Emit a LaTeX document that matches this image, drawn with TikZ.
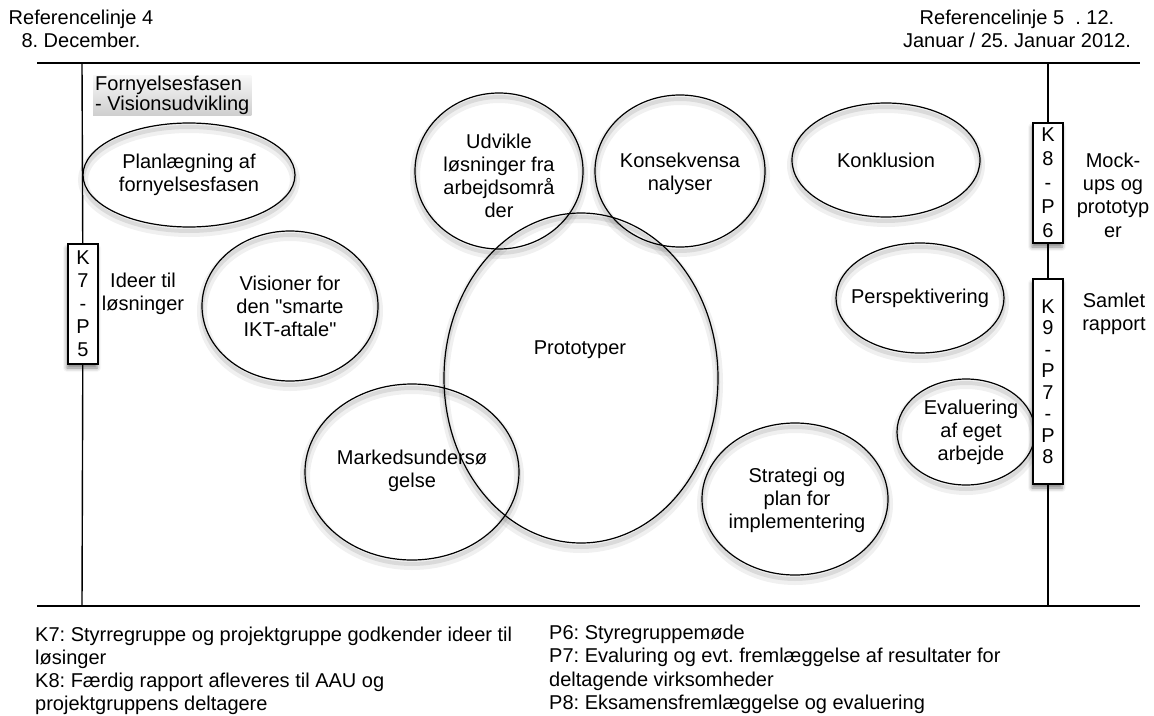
\documentclass[tikz,border=0pt]{standalone}
\usepackage{fontspec}
\setmainfont{Liberation Sans}[Ligatures=TeXOff]
\usetikzlibrary{shapes.geometric,shadows.blur}
\frenchspacing
\begin{document}
\begin{tikzpicture}[x=1pt,y=-1pt,
  every node/.style={font=\fontsize{20}{23}\selectfont, inner sep=0pt},
  rule/.style={line width=1.4pt},
  phase/.style={ellipse, draw, line width=1.2pt,
    preaction={draw=black, draw opacity=0.06, line width=10pt, transform canvas={yshift=-5pt}},
    preaction={draw=black, draw opacity=0.09, line width=4pt, transform canvas={yshift=-4pt}}},
  lbl/.style={align=center},
  gate/.style={draw, fill=white, line width=1.2pt, minimum width=30pt, align=center,
    blur shadow={shadow xshift=-1pt, shadow yshift=-4pt, shadow blur radius=4pt, shadow opacity=50}},
]
\useasboundingbox (0,0) rectangle (1154,715);

% timeline frame
\coordinate (topL) at (37,63);
\coordinate (topR) at (1140,63);
\coordinate (botL) at (37,606);
\coordinate (botR) at (1140,606);
\coordinate (lineLt) at (82,63);
\coordinate (lineLb) at (82,606);
\coordinate (lineRt) at (1048,63);
\coordinate (lineRb) at (1048,606);
\draw[rule] (topL) -- (topR);
\draw[rule] (botL) -- (botR);

% headers
\node[lbl] (refL) at (81,29) {Referencelinje 4\\8. December.};
\node[lbl] (refR) at (1017,29) {Referencelinje 5~~. 12.\\Januar / 25. Januar 2012.};

% phase title
\node[anchor=north west, minimum width=157pt, minimum height=40pt,
  inner xsep=2pt, align=left, top color=gray!6, bottom color=gray!38,
  font=\fontsize{20}{20}\selectfont] (title) at (93,75) {Fornyelsesfasen\\- Visionsudvikling};

% activities
\node[phase, minimum width=212pt, minimum height=104pt] (plan) at (189,175) {};
\node[lbl] (planT) at (189,175) {Planlægning af\\fornyelsesfasen};

\node[phase, minimum width=168pt, minimum height=156pt] (udv) at (499,171) {};
\node[lbl] (udvT) at (499,176) {Udvikle\\løsninger fra\\arbejdsområ\\der};

\node[phase, minimum width=170pt, minimum height=152pt] (kons) at (680,171) {};
\node[lbl] (konsT) at (680,174) {Konsekvensa\\nalyser};

\node[phase, minimum width=188pt, minimum height=114pt] (konk) at (886,160) {};
\node[lbl] (konkT) at (886,160) {Konklusion};

\node[phase, minimum width=176pt, minimum height=150pt] (vis) at (290,306) {};
\node[lbl] (visT) at (290,306) {Visioner for\\den "smarte\\IKT-aftale"};

\node[phase, minimum width=274pt, minimum height=330pt] (proto) at (581,378) {};
\node[lbl] (protoT) at (580,350) {Prototyper};

\node[phase, minimum width=168pt, minimum height=110pt] (persp) at (920,298) {};
\node[lbl] (perspT) at (920,298) {Perspektivering};

\node[phase, minimum width=138pt, minimum height=106pt] (eval) at (966,432) {};
\node[lbl] (evalT) at (971,432) {Evaluering\\af eget\\arbejde};

\node[phase, minimum width=214pt, minimum height=176pt] (mark) at (412,472) {};
\node[lbl] (markT) at (412,471) {Markedsundersø\\gelse};

\node[phase, minimum width=186pt, minimum height=152pt] (strat) at (795,499) {};
\node[lbl] (stratT) at (797,500) {Strategi og\\plan for\\implementering};

% milestones
\node[gate, minimum height=120pt] (k7) at (83,304) {K\\7\\-\\P\\5};
\node[gate, minimum height=120pt, font=\fontsize{20}{24}\selectfont] (k8) at (1048,183) {K\\8\\-\\P\\6};
\node[gate, minimum height=205pt, font=\fontsize{20}{21.5}\selectfont] (k9) at (1048,381.5) {K\\9\\-\\P\\7\\-\\P\\8};

\draw[rule] (lineLt) -- (k7);
\draw[rule] (k7) -- (lineLb);
\draw[rule] (lineRt) -- (k8);
\draw[rule] (k8) -- (k9);
\draw[rule] (k9) -- (lineRb);

% milestone results
\node[lbl, fill=white, inner sep=1pt] (ideer) at (143,293.5) {Ideer til\\løsninger};
\node[lbl, font=\fontsize{20}{23.3}\selectfont] (mock) at (1113,195) {Mock-\\ups og\\prototyp\\er};
\node[lbl] (samlet) at (1114,314) {Samlet\\rapport};

% legend
\node[anchor=north west, align=left, font=\fontsize{20}{22.8}\selectfont] (notesK) at (35,627)
  {K7: Styrregruppe og projektgruppe godkender ideer til\\løsinger\\K8: Færdig rapport afleveres til AAU og\\projektgruppens deltagere};
\node[anchor=north west, align=left, font=\fontsize{20}{23.2}\selectfont] (notesP) at (549,625)
  {P6: Styregruppemøde\\P7: Evaluring og evt. fremlæggelse af resultater for\\deltagende virksomheder\\P8: Eksamensfremlæggelse og evaluering};
\end{tikzpicture}
\end{document}
